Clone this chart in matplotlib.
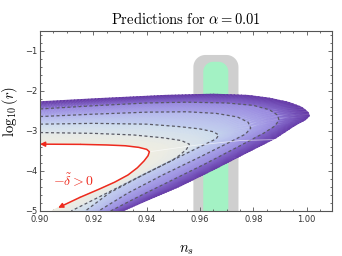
import numpy as np
import matplotlib
matplotlib.use("Agg")
import matplotlib.pyplot as plt
from matplotlib.colors import LinearSegmentedColormap
from matplotlib.patches import PathPatch
from matplotlib.path import Path
from matplotlib.ticker import MultipleLocator, FormatStrFormatter

plt.rcParams["mathtext.fontset"] = "cm"

# contour curves in (n_s, log10 r): left edge -> turning point -> bottom edge
outer = [(0.900, -2.27), (0.922, -2.19), (0.947, -2.11), (0.965, -2.08), (0.978, -2.11),
         (0.986, -2.18), (0.993, -2.28), (0.998, -2.40), (1.0005, -2.53), (1.001, -2.62),
         (0.9995, -2.72), (0.9958, -2.85), (0.9883, -3.18), (0.977, -3.56), (0.9647, -3.98),
         (0.9522, -4.39), (0.942, -4.68), (0.931, -5.00)]
dash1 = [(0.900, -2.45), (0.920, -2.37), (0.940, -2.30), (0.955, -2.28), (0.970, -2.30),
         (0.980, -2.36), (0.986, -2.47), (0.989, -2.60), (0.9896, -2.73), (0.988, -2.88),
         (0.984, -3.05), (0.975, -3.37), (0.962, -3.82), (0.948, -4.28), (0.937, -4.64),
         (0.9265, -5.00)]
dash2 = [(0.900, -2.64), (0.920, -2.58), (0.940, -2.53), (0.955, -2.52), (0.966, -2.56),
         (0.974, -2.65), (0.978, -2.78), (0.979, -2.93), (0.977, -3.08), (0.972, -3.25),
         (0.960, -3.65), (0.946, -4.10), (0.933, -4.55), (0.922, -5.00)]
dash3 = [(0.900, -2.83), (0.920, -2.81), (0.940, -2.83), (0.952, -2.89), (0.960, -2.95),
         (0.965, -3.02), (0.967, -3.10), (0.966, -3.20), (0.962, -3.33), (0.950, -3.72),
         (0.938, -4.12), (0.926, -4.55), (0.917, -5.00)]
dash4 = [(0.900, -3.04), (0.920, -3.06), (0.935, -3.10), (0.946, -3.17), (0.953, -3.24),
         (0.956, -3.33), (0.955, -3.45), (0.9525, -3.60), (0.9497, -3.73), (0.9335, -4.27),
         (0.9174, -4.81), (0.9117, -5.00)]
red = [(0.900, -3.33), (0.915, -3.335), (0.925, -3.35), (0.932, -3.37), (0.937, -3.41),
       (0.940, -3.46), (0.941, -3.52), (0.9405, -3.62), (0.939, -3.75), (0.9365, -3.92),
       (0.933, -4.10), (0.928, -4.28), (0.922, -4.46), (0.915, -4.66), (0.9068, -4.92),
       (0.9045, -5.00)]
seam = [(0.941, -3.52), (0.958, -3.36), (0.975, -3.24), (0.991, -3.21)]

curve_levels = [0.0, 0.2, 0.4, 0.6, 0.8, 1.0]
level_colors = ["#f4efe1", "#e3e9ea", "#c9d9ef", "#b0b0ec", "#9380dc", "#5a2a9c"]

# observational bands: (left, right, top)
band_grey = (0.9575, 0.9744, -1.10)
band_green = (0.9612, 0.9706, -1.27)

xlim = (0.900, 1.0095)
ylim = (-5.0, -0.5)

fig = plt.figure(figsize=(3.42, 2.56), dpi=100)
ax = fig.add_axes([0.117, 0.176, 0.854, 0.703])
ax.set_xlim(*xlim)
ax.set_ylim(*ylim)

bbox = ax.get_window_extent()
px_x = bbox.width / (xlim[1] - xlim[0])
px_y = bbox.height / (ylim[1] - ylim[0])


def along(seg, n):
    d = np.hypot(np.diff(seg[:, 0]) * px_x, np.diff(seg[:, 1]) * px_y)
    s = np.r_[0, np.cumsum(d)]
    t = np.linspace(0, s[-1], n)
    return np.interp(t, s, seg[:, 0]), np.interp(t, s, seg[:, 1])


def resample(curve, n_up=80, n_lo=80):
    pts = np.array(curve)
    iv = np.argmax(pts[:, 0])
    xu, yu = along(pts[:iv + 1], n_up)
    xl, yl = along(pts[iv:], n_lo)
    return np.r_[xu, xl[1:]], np.r_[yu, yl[1:]]


def band_path(x0, x1, top, r_px):
    rx, ry = r_px / px_x, r_px / px_y
    a = np.linspace(np.pi, np.pi / 2, 12)
    b = np.linspace(np.pi / 2, 0, 12)
    xs = np.r_[x0, x0 + rx + rx * np.cos(a), x1 - rx + rx * np.cos(b), x1]
    ys = np.r_[-6, top - ry + ry * np.sin(a), top - ry + ry * np.sin(b), -6]
    return Path(np.c_[xs, ys])


ax.add_patch(PathPatch(band_path(*band_grey, 12), facecolor="#cfcfcf", edgecolor="none", zorder=1))
ax.add_patch(PathPatch(band_path(*band_green, 10), facecolor="#a3f2c4", edgecolor="none", zorder=1))

curves = [red, dash4, dash3, dash2, dash1, outer]
X, Y = zip(*[resample(c) for c in curves])
X, Y = np.array(X), np.array(Y)
C = np.repeat(np.array(curve_levels)[:, None], X.shape[1], axis=1)
cmap = LinearSegmentedColormap.from_list("pred", list(zip(curve_levels, level_colors)))
ax.pcolormesh(X, Y, C, shading="gouraud", cmap=cmap, vmin=0, vmax=1, alpha=0.85, zorder=2,
              rasterized=True)

for c in [dash1, dash2, dash3, dash4]:
    pts = np.array(c)
    ax.plot(pts[:, 0], pts[:, 1], color="#5a5a64", lw=0.9, ls=(0, (2.4, 2.0)), zorder=3)

sp = np.array(seam)
ax.plot(sp[:, 0], sp[:, 1], color="white", lw=0.6, alpha=0.6, zorder=3)

rp = np.array(red[:-1])
ax.plot(rp[1:-1, 0], rp[1:-1, 1], color="#ee2a1e", lw=1.1, zorder=4, solid_capstyle="butt",
        solid_joinstyle="round")
arrow = dict(arrowstyle="-|>", color="#ee2a1e", lw=1.1, mutation_scale=7, shrinkA=0, shrinkB=0)
ax.annotate("", xy=rp[0], xytext=rp[1], arrowprops=arrow, zorder=4)
ax.annotate("", xy=rp[-1], xytext=rp[-2], arrowprops=arrow, zorder=4)
ax.text(0.9125, -4.25, r"$-\tilde{\delta} > 0$", color="#ee2a1e", fontsize=10,
        ha="center", va="center", zorder=5)

ax.xaxis.set_major_locator(MultipleLocator(0.02))
ax.xaxis.set_minor_locator(MultipleLocator(0.005))
ax.xaxis.set_major_formatter(FormatStrFormatter("%.2f"))
ax.yaxis.set_major_locator(MultipleLocator(1))
ax.yaxis.set_minor_locator(MultipleLocator(0.2))
ax.tick_params(which="both", direction="in", top=True, right=True, color="#555555",
               width=0.6, labelsize=6, labelcolor="#333333")
ax.tick_params(axis="x", pad=3)
ax.tick_params(axis="y", pad=2)
ax.tick_params(which="major", length=3)
ax.tick_params(which="minor", length=1.5)
for s in ax.spines.values():
    s.set_color("#555555")
    s.set_linewidth(0.8)

ax.set_title(r"$\mathrm{Predictions\ for\ }\alpha = 0.01$", fontsize=10.5, pad=5)
ax.set_xlabel(r"$n_s$", fontsize=10.5)
ax.xaxis.set_label_coords(0.5, -0.17)
ax.set_ylabel(r"$\log_{10}(r)$", fontsize=10.5)
ax.yaxis.set_label_coords(-0.07, 0.55)

fig.savefig("out.png", dpi=100)
